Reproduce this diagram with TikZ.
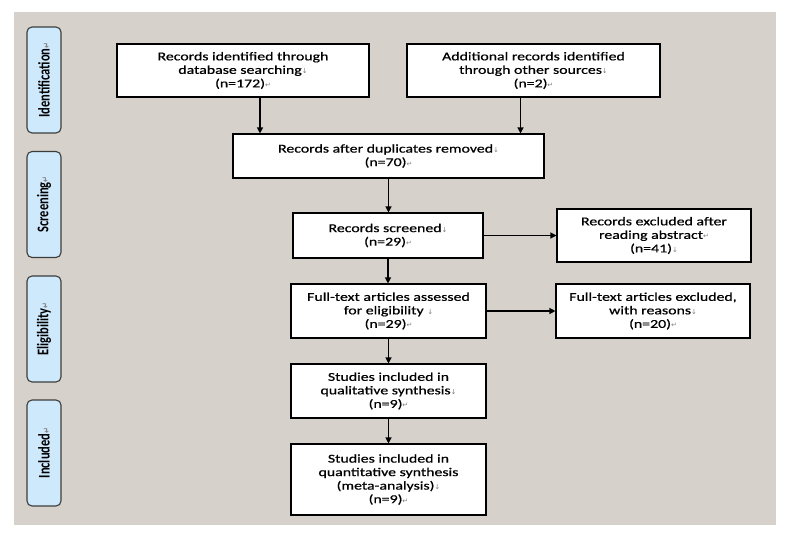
\documentclass[tikz,border=0pt]{standalone}
\usepackage{fontspec}
\usetikzlibrary{arrows.meta,calc}
\setmainfont{Carlito}
\newfontfamily\boxfont[FakeStretch=1.32,FakeBold=0.6]{Carlito}
\newfontfamily\markfont{DejaVu Sans}
\newcommand\pdn{{\markfont\fontsize{7}{7}\selectfont\color{black!50}↓}}
\newcommand\pret{{\markfont\fontsize{7}{7}\selectfont\color{black!50}↵}}
\definecolor{bggray}{RGB}{214,210,203}
\definecolor{lblue}{RGB}{206,232,252}
\definecolor{lborder}{RGB}{60,60,60}
\begin{document}
\begin{tikzpicture}[x=1pt,y=-1pt,
  boxstyle/.style={draw=black,line width=1.1pt,fill=white,align=center,inner sep=2pt,
    font=\boxfont\fontsize{12}{13.5}\selectfont},
  sidelbl/.style={draw=lborder,line width=1.1pt,fill=lblue,rounded corners=5pt,rotate=90,
    minimum width=106pt,minimum height=34pt,inner sep=0pt,font=\fontsize{12.5}{13}\selectfont\bfseries},
  arr/.style={line width=1.2pt,-{Triangle[length=6pt,width=6pt]}}]
\useasboundingbox (0,0) rectangle (800,551);
\fill[white] (0,0) rectangle (800,551);
\fill[bggray] (14,12) rectangle (776,525);
% side labels
\node[sidelbl] (lid) at (44,80) {\scalebox{1}[1.3]{Identification\pret}};
\node[sidelbl] (lsc) at (44,204.5) {\scalebox{1}[1.3]{Screening\pret}};
\node[sidelbl] (lel) at (44,329) {\scalebox{1}[1.3]{Eligibility\pret}};
\node[sidelbl] (lin) at (44,453) {\scalebox{1}[1.3]{Included\pret}};
% boxes
\node[boxstyle,minimum width=252pt,minimum height=53pt] (b1) at (243,70.5)
  {Records identified through\\database searching\pdn\\(n=172)\pret};
\node[boxstyle,minimum width=253pt,minimum height=53pt] (b2) at (533.5,70.5)
  {Additional records identified\\through other sources\pdn\\(n=2)\pret};
\node[boxstyle,minimum width=311pt,minimum height=44pt] (b3) at (388.5,156)
  {Records after duplicates removed\pdn\\(n=70)\pret};
\node[boxstyle,minimum width=190pt,minimum height=45pt] (b4) at (388,235.5)
  {Records screened\pdn\\(n=29)\pret};
\node[boxstyle,minimum width=194pt,minimum height=53pt] (e1) at (654,235.5)
  {Records excluded after\\reading abstract\pret\\(n=41)\pdn};
\node[boxstyle,minimum width=195pt,minimum height=54pt] (b5) at (388.5,311)
  {Full-text articles assessed\\for eligibility \pdn\\(n=29)\pret};
\node[boxstyle,minimum width=194pt,minimum height=54pt] (e2) at (653,311)
  {Full-text articles excluded,\\with reasons\pdn\\(n=20)\pret};
\node[boxstyle,minimum width=195pt,minimum height=54pt] (b6) at (388.5,391)
  {Studies included in\\qualitative synthesis\pdn\\(n=9)\pret};
\node[boxstyle,minimum width=195pt,minimum height=71pt] (b7) at (388.5,479.5)
  {Studies included in\\quantitative synthesis\\(meta-analysis)\pdn\\(n=9)\pret};
% connectors
\draw[arr] ([xshift=17pt]b1.south) -- ([xshift=17pt]b1.south |- b3.north);
\draw[arr] ([xshift=-13pt]b2.south) -- ([xshift=-13pt]b2.south |- b3.north);
\draw[arr] (b3.south) -- (b3.south |- b4.north);
\draw[arr] (b4.south) -- (b4.south |- b5.north);
\draw[arr] (b5.south) -- (b5.south |- b6.north);
\draw[arr] (b6.south) -- (b6.south |- b7.north);
\draw[arr] (b4.east) -- (b4.east -| e1.west);
\draw[arr] (b5.east) -- (b5.east -| e2.west);
\end{tikzpicture}
\end{document}
